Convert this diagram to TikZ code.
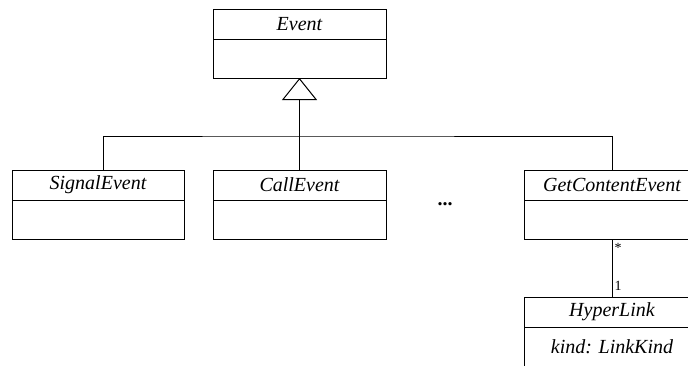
\documentclass[tikz,border=0pt]{standalone}
\usepackage{fontspec}
\setmainfont{Liberation Serif}
\usepackage{tikz}
\usetikzlibrary{shapes}
\usetikzlibrary{positioning}
\usetikzlibrary{arrows.meta}

\tikzset{
  clsname/.style={draw, line width=.5pt, inner sep=0pt, outer sep=0pt,
    minimum width=86pt, minimum height=15pt, font=\fontsize{10}{12}\selectfont\itshape},
  clsbody/.style={draw, line width=.5pt, inner sep=0pt, outer sep=0pt,
    minimum width=86pt, minimum height=19.5pt, font=\fontsize{10}{12}\selectfont\itshape},
  mult/.style={font=\fontsize{7}{8}\selectfont, inner sep=1pt}
}

\begin{document}
\begin{tikzpicture}[x=.5pt,y=-.5pt,line width=.5pt]
\clip (0,0) rectangle (688,365);
% superclass
\node[clsname,minimum width=86.5pt] (ev) at (299.5,24) {Event};
\node[clsbody,minimum width=86.5pt,below=0pt of ev] (evbody) {};
% subclasses
\node[clsname] (sig) at (98,185) {SignalEvent};
\node[clsbody,below=0pt of sig] (sigbody) {};
\node[clsname,minimum width=86.5pt] (call) at (299.5,185) {CallEvent};
\node[clsbody,minimum width=86.5pt,below=0pt of call] (callbody) {};
\node[font=\fontsize{10}{12}\selectfont\bfseries,anchor=base] (dots) at (445,205) {...};
\node[clsname,minimum width=88pt] (gce) at (612,185) {GetContentEvent};
\node[clsbody,minimum width=88pt,below=0pt of gce] (gcebody) {};
% associated class
\node[clsname,minimum width=88pt] (hl) at (612,312) {HyperLink};
\node[clsbody,minimum width=88pt,below=0pt of hl] (hlbody) {kind: LinkKind};
% generalisation
\coordinate (bar) at (299.5,136);
\draw ([xshift=2.5pt]sig.north) |- (bar) -| (gce.north);
\draw[-{Triangle[open,width=17.5pt,length=11pt]}] (call.north) -- (evbody.south);
% association
\draw (gcebody.south) -- node[mult,pos=.16,right] {*} node[mult,pos=.8,right] {1} (hl.north);
\end{tikzpicture}
\end{document}
